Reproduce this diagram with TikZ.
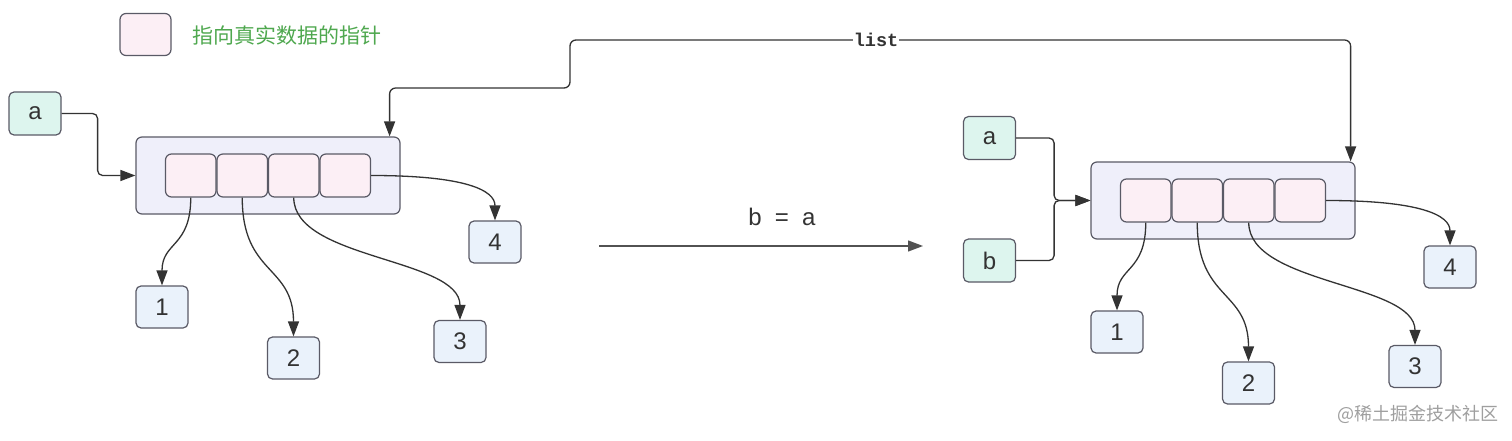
\documentclass[tikz,border=0pt]{standalone}
\usepackage{fontspec}
\setmainfont{Liberation Sans}
\newfontfamily\cjk{Noto Sans CJK SC}
\newfontfamily\monob{Liberation Mono}
\usetikzlibrary{arrows.meta,calc}
\definecolor{lineC}{HTML}{333333}
\definecolor{boxFill}{HTML}{EFEFFA}
\definecolor{boxDraw}{HTML}{5A5A66}
\definecolor{cellFill}{HTML}{FCEFF5}
\definecolor{numFill}{HTML}{EAF2FB}
\definecolor{varFill}{HTML}{DDF5EE}
\definecolor{legGreen}{HTML}{4FA84F}
\tikzset{
  base/.style={draw=boxDraw, line width=1.2pt, rounded corners=5pt, inner sep=0pt,
    font=\fontsize{24}{24}\selectfont, text=lineC},
  varbox/.style={base, fill=varFill, minimum width=52pt, minimum height=43pt},
  numbox/.style={base, fill=numFill, minimum width=52pt, minimum height=42pt},
  outerbox/.style={base, fill=boxFill, minimum width=264pt, minimum height=77pt, rounded corners=6pt},
  cellbox/.style={base, fill=cellFill, minimum width=50.5pt, minimum height=43pt, rounded corners=6pt},
  arr/.style={draw=lineC, line width=1.3pt, -{Triangle[length=15pt,width=11pt]}},
}
\newcommand\listgroup[1]{%
  \node[outerbox] (#1box) at (268,175.5) {};
  \node[cellbox] (#1c1) at (190.75,175.5) {};
  \node[cellbox] (#1c2) at (242.25,175.5) {};
  \node[cellbox] (#1c3) at (293.75,175.5) {};
  \node[cellbox] (#1c4) at (345.25,175.5) {};
  \node[numbox] (#1n1) at (162,307) {1};
  \node[numbox] (#1n2) at (293.5,358) {2};
  \node[numbox] (#1n3) at (460,341.5) {3};
  \node[numbox] (#1n4) at (495,242) {4};
  \draw[arr] (#1c1.south) .. controls +(0,50) and +(0,-44) .. (#1n1.north);
  \draw[arr] (#1c2.south) .. controls +(0,78) and +(0,-72) .. (#1n2.north);
  \draw[arr] (#1c3.south) .. controls +(0,62) and +(0,-62) .. (#1n3.north);
  \draw[arr] (#1c4.east) .. controls +(95,0) and +(0,-30) .. (#1n4.north);
}
\begin{document}
\begin{tikzpicture}[x=1pt,y=-1pt]
\fill[white] (0,0) rectangle (1512,441);
\useasboundingbox (0,0) rectangle (1512,441);
% legend
\node[cellbox, minimum width=51pt, minimum height=42pt] (leg) at (145.5,34.5) {};
\node[anchor=west, inner sep=0pt, text=legGreen, font=\cjk\fontsize{21}{21}\selectfont] (legt) at (192,35) {指向真实数据的指针};
% left group
\listgroup{L}
\node[varbox] (aL) at (35,113.5) {a};
\draw[arr, rounded corners=5pt] (aL.east) -- ++(36,0) |- (Lbox.west);
% right group
\begin{scope}[shift={(955,25)}]
\listgroup{R}
\end{scope}
\node[varbox] (aR) at (989.5,138) {a};
\node[varbox] (bR) at (989.5,260.5) {b};
\draw[arr, rounded corners=5pt] (aR.east) -- ++(38,0) |- (Rbox.west);
\draw[arr, rounded corners=5pt] (bR.east) -- ++(38,0) |- (Rbox.west);
% list connector
\draw[draw=lineC, line width=1.3pt, {Triangle[length=15pt,width=11pt]}-{Triangle[length=15pt,width=11pt]}, rounded corners=6pt]
  ([xshift=-11pt]Lbox.north east) |- (570,88) |- ([xshift=-5pt]Rbox.north east |- 0,40) -- ([xshift=-5pt]Rbox.north east);
\node[fill=white, inner sep=1pt, text=lineC, font=\monob\bfseries\fontsize{18.5}{18.5}\selectfont] (lst) at (876,40) {list};
% assignment arrow
\coordinate (s1) at (599,246);
\coordinate (s2) at (923,246);
\draw[arr, draw=lineC!85] (s1) -- (s2);
\node[text=lineC, font=\fontsize{24}{24}\selectfont] (asg) at (782,217) {b\hspace{0.55em}=\hspace{0.55em}a};
% watermark
\node[anchor=west, inner sep=0pt, text=gray!75, font=\cjk\fontsize{18}{18}\selectfont] (wm) at (1337,414) {@稀土掘金技术社区};
\end{tikzpicture}
\end{document}
